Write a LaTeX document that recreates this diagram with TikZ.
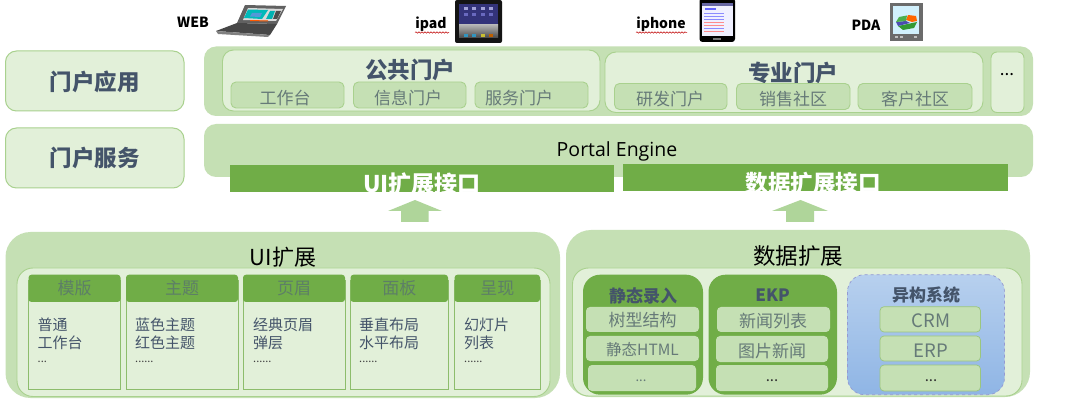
\documentclass[tikz,border=0pt]{standalone}
\usepackage{fontspec}
\setmainfont{Noto Sans CJK SC}
\newfontfamily\latinf{Open Sans}
\usetikzlibrary{decorations.pathmorphing}
\definecolor{band}{HTML}{C5E0B4}
\definecolor{pale}{HTML}{E2F0D9}
\definecolor{edge}{HTML}{A9D18E}
\definecolor{dgreen}{HTML}{70AD47}
\definecolor{slate}{HTML}{44546A}
\definecolor{subtx}{HTML}{667A78}
\definecolor{headtx}{HTML}{5D7F66}
\definecolor{arrowg}{HTML}{AFD59A}
\definecolor{bluetop}{HTML}{B7D0EE}
\definecolor{bluebot}{HTML}{8FB5E5}
\newcommand{\fs}[1]{\fontsize{#1}{#1}\selectfont}
\newcommand{\bx}[6]{% name, style, x1,y1,x2,y2
  \pgfmathsetmacro{\bxw}{#5-#3}\pgfmathsetmacro{\bxh}{#6-#4}
  \pgfmathsetmacro{\bxcx}{(#5+#3)/2}\pgfmathsetmacro{\bxcy}{(#6+#4)/2}
  \node[boxbase,#2,minimum width=\bxw pt,minimum height=\bxh pt] (#1) at (\bxcx,\bxcy) {};}
% column: id, x1, x2, head text, text x, line1, line2, dots
\newcommand{\uicol}[8]{%
  \bx{#1b}{colbody}{#2}{280}{#3}{389}
  \bx{#1h}{colhead}{#2}{274.7}{#3}{302}
  \node[headt] (#1t) at (#1h.center) {#4};
  \node[bodyt] (#1a) at (#5,325) {#6};
  \node[bodyt] (#1c) at (#5,343) {#7};
  \node[dott] (#1d) at (#5,362) {#8};}
\tikzset{
  boxbase/.style={inner sep=0pt,outer sep=0pt,rectangle},
  bandbox/.style={fill=band,rounded corners=12pt},
  leftbox/.style={fill=pale,draw=edge,line width=1pt,rounded corners=11pt},
  panelbox/.style={fill=pale,draw=edge,line width=.9pt,rounded corners=11pt},
  subbox/.style={fill=band,draw=edge,line width=.9pt,rounded corners=5pt},
  morebox/.style={fill=pale,draw=edge,line width=.9pt,rounded corners=6pt},
  barbox/.style={fill=dgreen},
  bigbox/.style={fill=band,rounded corners=25pt},
  innerbox/.style={fill=pale,draw=edge,line width=.9pt,rounded corners=16pt},
  colbody/.style={fill=pale,draw=dgreen!80!white,line width=.8pt},
  colhead/.style={fill=dgreen,rounded corners=3pt},
  groupbox/.style={fill=dgreen,rounded corners=17pt},
  bluebox/.style={top color=bluetop,bottom color=bluebot,draw=slate!60!blue!50!white,dashed,line width=.7pt,rounded corners=17pt},
  itembox/.style={fill=band,rounded corners=4pt},
  bluesub/.style={fill=band,draw=dgreen!70!white,line width=.7pt,rounded corners=4pt},
  bolditem/.style={font=\fs{22.5}\bfseries,text=slate},
  subt/.style={font=\fs{17},text=subtx},
  latt/.style={font=\fs{18.5},text=subtx},
  headt/.style={font=\fs{17},text=headtx},
  bodyt/.style={font=\fs{15},text=slate,anchor=west,inner sep=0pt},
  dott/.style={font=\fs{11},text=black!75,anchor=west,inner sep=0pt},
  devt/.style={font=\fs{14}\bfseries,text=black},
  grouptitle/.style={font=\fs{17}\bfseries,text=slate},
  wavy/.style={red!75!black,line width=.5pt,decorate,decoration={snake,amplitude=.7pt,segment length=3pt}},
  uparrow/.style={fill=arrowg},
}
\begin{document}
\begin{tikzpicture}[x=1pt,y=-1pt]
\useasboundingbox (0,0) rectangle (1080,406);
\fill[white] (0,0) rectangle (1080,406);

% devices
\node[devt] (tweb) at (193,22) {WEB};
\node[devt] (tipad) at (431,24) {ipad};
\draw[wavy] (415,32.5) -- (449,32.5);
\node[devt] (tiphone) at (661,24) {iphone};
\draw[wavy] (636,32.5) -- (687,32.5);
\node[devt] (tpda) at (866,25) {PDA};
% laptop
\fill[black!62] (245,5) -- (286,6) -- (277,24) -- (237,23) -- cycle;
\fill[black!72] (237,23) -- (277,24) -- (270,35) -- (216,31) -- cycle;
\fill[black!50] (216,31) -- (270,35) -- (268,37) -- (218,34) -- cycle;
\fill[black!15] (248,8) -- (283,9) -- (276,21) -- (243,20) -- cycle;
\fill[teal!55!cyan] (248,9.5) -- (268,10) -- (262,19) -- (244,18) -- cycle;
\fill[cyan!60!blue!70] (252,13) -- (262,13) -- (260,17) -- (250,16.5) -- cycle;
\fill[teal!60!cyan] (270,11) -- (275,11) -- (272,19) -- (266,19) -- cycle;
\fill[black!70] (276,11) -- (281,11) -- (277,19) -- (273,19) -- cycle;
\fill[orange!70!red] (250,20) -- (268,20.5) -- (268,21.5) -- (250,21) -- cycle;
% ipad
\fill[black!92,rounded corners=2pt] (455,0) rectangle (502,43);
\fill[blue!35!black!80] (459,4) rectangle (498,25);
\shade[top color=black!30,bottom color=black!72] (459,25) rectangle (498,38);
\foreach \ix in {464,472,481,489}{\fill[blue!25!white!85!black] (\ix,7) rectangle ++(3.5,3);\fill[blue!45!white!75!black] (\ix,13) rectangle ++(3.5,3);}
\foreach \ix/\ic in {464/cyan,472/cyan,481/yellow,489/orange}{\fill[\ic!75!black] (\ix,34.5) rectangle ++(3.5,2.5);}
% phone
\fill[black,rounded corners=3pt] (699.5,-2) rectangle (735,42);
\fill[blue!6!white] (702,3) rectangle (733,36);
\fill[blue!40!black!60] (702,3) rectangle (733,6);
\fill[blue!60!white] (705,8) rectangle (716,10);
\foreach \iy/\ic in {13/blue,16/blue,19/blue,22/red,25/red,28/blue,31/red}{\draw[\ic!45!white,line width=.7pt] (704,\iy) -- (724,\iy);}
\fill[black!55] (713,38) rectangle (721,40);
% PDA
\fill[black!58] (889.5,3) rectangle (923,41);
\fill[cyan!18!white] (893,6) rectangle (919,34);
\fill[orange!80!red] (906,20) -- (908,15) -- (916,16) -- (917,21) -- (912,22) -- cycle;
\fill[green!50!black!80] (898,26) -- (917,22) -- (914,28) -- (903,30) -- cycle;
\fill[blue!40!gray] (898,26) -- (896,22) -- (906,21) -- (910,23) -- cycle;
\fill[green!55!black!70] (896,22) -- (899,17) -- (907,15.5) -- (906,21) -- cycle;
\foreach \ix in {895,900,914}{\fill[black!25] (\ix,36.5) rectangle ++(3,1.5);}

% left labels
\bx{lapp}{leftbox}{5.5}{51}{184}{111}
\node[font=\fs{22.5}\bfseries,text=slate] (tlapp) at (94.5,82) {门户应用};
\bx{lsvc}{leftbox}{5.5}{128}{184}{188}
\node[font=\fs{22.5}\bfseries,text=slate] (tlsvc) at (94.5,158) {门户服务};

% portal band
\bx{appband}{bandbox}{204}{46.5}{1033}{116}
\bx{pub}{panelbox}{222.5}{50}{600}{111}
\node[bolditem] (tpub) at (410,69.5) {公共门户};
\bx{s1}{subbox}{231}{82}{344}{108}
\node[subt] at (285,98) (ts1) {工作台};
\bx{s2}{subbox}{353.5}{82}{466}{108}
\node[subt] at (408,98) (ts2) {信息门户};
\bx{s3}{subbox}{475}{82}{588}{108}
\node[subt] at (519,98) (ts3) {服务门户};
\bx{pro}{panelbox}{605}{52}{983}{112.5}
\node[bolditem] (tpro) at (793,72.5) {专业门户};
\bx{s4}{subbox}{614.5}{83.5}{727}{109.5}
\node[subt] at (670,99.5) (ts4) {研发门户};
\bx{s5}{subbox}{736.5}{83.5}{850}{109.5}
\node[subt] at (793,99.5) (ts5) {销售社区};
\bx{s6}{subbox}{858}{83.5}{972}{109.5}
\node[subt] at (915,99.5) (ts6) {客户社区};
\bx{more}{morebox}{991}{52}{1024}{112.5}
\node[font=\fs{17},text=black] (tmore) at (1007,75) {...};

% engine band
\bx{engine}{bandbox}{204}{124}{1033}{177}
\node[font=\latinf\fs{19.5},text=black] (tengine) at (617,151) {Portal Engine};
\bx{uibar}{barbox}{230}{165}{614}{192}
\bx{databar}{barbox}{623}{164}{1007.5}{191}
\begin{scope}
\clip (230,165) rectangle (614,192);
\node[font=\fs{23}\bfseries,text=white] (tuibar) at (422,184) {UI扩展接口};
\end{scope}
\begin{scope}
\clip (623,164) rectangle (1007.5,191);
\node[font=\fs{22.5}\bfseries,text=white] (tdatabar) at (813,183) {数据扩展接口};
\end{scope}

% arrows
\fill[uparrow] (415,200) -- (442,211) -- (428.5,211) -- (428.5,222) -- (401,222) -- (401,211) -- (388,211) -- cycle;
\fill[uparrow] (800.5,200) -- (828,211) -- (814,211) -- (814,222) -- (786,222) -- (786,211) -- (772,211) -- cycle;

% UI extension
\bx{uibig}{bigbox}{5.5}{232}{560}{398}
\node[font=\fs{22},text=black] (tuibig) at (283,257) {UI扩展};
\bx{uiin}{innerbox}{17}{268}{550}{396.5}
\uicol{ca}{28.5}{120.5}{模版}{37.5}{普通}{工作台}{...}
\uicol{cb}{126}{238}{主题}{135}{蓝色主题}{红色主题}{......}
\uicol{cc}{243}{345}{页眉}{253}{经典页眉}{弹层}{......}
\uicol{cd}{350.5}{448}{面板}{359}{垂直布局}{水平布局}{......}
\uicol{ce}{454.5}{540}{呈现}{464}{幻灯片}{列表}{......}

% data extension
\bx{databig}{bigbox}{566}{230}{1030}{397}
\node[font=\fs{22.5},text=black] (tdatabig) at (798,256) {数据扩展};
\bx{datain}{innerbox}{572.5}{268}{1022}{396}
\bx{g1}{groupbox}{583}{274.7}{703}{394.7}
\node[grouptitle] (tg1) at (643,295.5) {静态录入};
\bx{g1a}{itembox}{586}{307}{699}{332}
\node[subt] (tg1a) at (642.5,320.5) {树型结构};
\bx{g1b}{itembox}{586}{336}{699}{361}
\node[font=\fs{15.5},text=subtx] (tg1b) at (642.5,350) {静态HTML};
\bx{g1c}{itembox}{588}{365}{696}{391}
\node[font=\fs{13},text=subtx] (tg1c) at (641,381) {...};
\bx{g2}{groupbox}{708.5}{274.7}{837}{394.7}
\node[grouptitle] (tg2) at (772.5,295.5) {EKP};
\bx{g2a}{itembox}{717}{307}{830}{332}
\node[subt] (tg2a) at (773,321) {新闻列表};
\bx{g2b}{itembox}{716}{336}{828}{362}
\node[subt] (tg2b) at (772,351) {图片新闻};
\bx{g2c}{itembox}{716}{365}{828}{391}
\node[font=\fs{15},text=black!80] (tg2c) at (772,381) {...};
\bx{g3}{bluebox}{847.5}{274.7}{1004.5}{394.7}
\node[grouptitle] (tg3) at (926,295.5) {异构系统};
\bx{g3a}{bluesub}{880}{306.7}{980.5}{332}
\node[latt] (tg3a) at (931,321) {CRM};
\bx{g3b}{bluesub}{880}{336}{980.5}{361}
\node[latt] (tg3b) at (931,351) {ERP};
\bx{g3c}{bluesub}{880}{365}{980.5}{391}
\node[font=\fs{15},text=black!80] (tg3c) at (931,381) {...};
\end{tikzpicture}
\end{document}
